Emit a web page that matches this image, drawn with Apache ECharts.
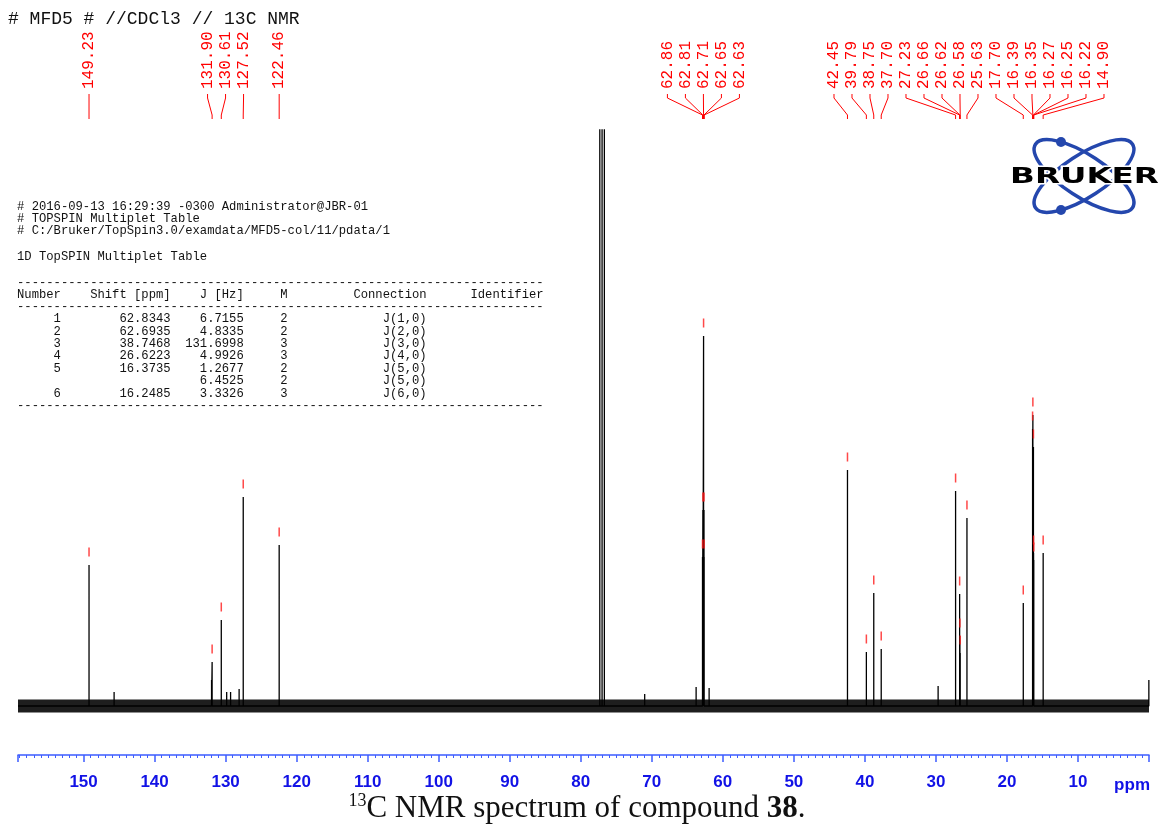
<!DOCTYPE html>
<html><head><meta charset="utf-8">
<script src="https://cdn.jsdelivr.net/npm/echarts@6/dist/echarts.min.js"></script>
<style>html,body{margin:0;padding:0;background:#fff}#c{width:1161px;height:825px}</style>
</head><body><div id="c"></div>
<script>
// ---- Data ----
// picked (labelled) peaks: chemical shift (ppm) and intensity (arbitrary units)
const peakPpm = [149.23, 131.90, 130.61, 127.52, 122.46,
  62.86, 62.81, 62.71, 62.65, 62.63,
  42.45, 39.79, 38.75, 37.70, 27.23, 26.66, 26.62, 26.58, 25.63,
  17.70, 16.39, 16.35, 16.27, 16.25, 16.22, 14.90];
const peakHeight = [141, 44, 86, 209, 161,
  149, 196, 370, 196, 149,
  236, 54, 113, 57, 215, 112, 70, 53, 188,
  103, 277, 291, 259, 153, 146, 153];
const peakLabel = peakPpm.map(p => p.toFixed(2));
// unlabelled signals: CDCl3 triplet (off scale) and small impurity lines
const otherPpm = [145.7, 131.98, 129.85, 129.3, 128.1, 77.32, 77.00, 76.68, 71.0, 63.76, 61.93, 29.69, 0.02];
const otherHeight = [14, 26, 14, 14, 17, 3000, 3000, 3000, 12, 19, 18, 20, 26];
const axisMin = 0, axisMax = 159.23, axisInterval = 10;

// acquisition / multiplet table text
const headerTitle = '# MFD5 # //CDCl3 // 13C NMR';
const infoLines = ['# 2016-09-13 16:29:39 -0300 Administrator@JBR-01',
  '# TOPSPIN Multiplet Table',
  '# C:/Bruker/TopSpin3.0/examdata/MFD5-col/11/pdata/1'];
const tableTitle = '1D TopSPIN Multiplet Table';
const tableNumber = ['1', '2', '3', '4', '5', '', '6'];
const tableShift = ['62.8343', '62.6935', '38.7468', '26.6223', '16.3735', '', '16.2485'];
const tableJ = ['6.7155', '4.8335', '131.6998', '4.9926', '1.2677', '6.4525', '3.3326'];
const tableM = ['2', '2', '3', '3', '2', '2', '3'];
const tableConn = ['J(1,0)', 'J(2,0)', 'J(3,0)', 'J(4,0)', 'J(5,0)', 'J(5,0)', 'J(6,0)'];

// ---- build spectrum trace ----
const allPeaks = peakPpm.map((p, i) => [p, peakHeight[i]])
  .concat(otherPpm.map((p, i) => [p, otherHeight[i]]))
  .sort((a, b) => b[0] - a[0]);
const spec = [[axisMax, 0]];
allPeaks.forEach(([p, h]) => { spec.push([p, 0], [p, h], [p, 0]); });
spec.push([axisMin, 0]);

function layoutLabels(xs, gap) {
  const idx = xs.map((x, i) => i).sort((a, b) => xs[a] - xs[b]);
  let groups = idx.map(i => ({ m: [i], s: xs[i] }));
  let merged = true;
  while (merged) {
    merged = false;
    for (let g = 0; g < groups.length - 1; g++) {
      const A = groups[g], B = groups[g + 1];
      const aEnd = A.s / A.m.length + (A.m.length - 1) / 2 * gap;
      const bStart = B.s / B.m.length - (B.m.length - 1) / 2 * gap;
      if (bStart - aEnd < gap) {
        groups.splice(g, 2, { m: A.m.concat(B.m), s: A.s + B.s });
        merged = true; break;
      }
    }
  }
  const out = [];
  groups.forEach(G => { const n = G.m.length, c = G.s / n; G.m.forEach((m, k) => { out[m] = c + (k - (n - 1) / 2) * gap; }); });
  return out;
}

function pad(s, n) { s = String(s); while (s.length < n) s = ' ' + s; return s; }
const dash = '-'.repeat(72);
const tableHead = 'Number    Shift [ppm]    J [Hz]     M         Connection      Identifier';
const tableRows = tableNumber.map((n, i) =>
  pad(n, 6) + pad(tableShift[i], 15) + pad(tableJ[i], 10) + pad(tableM[i], 6) + pad(tableConn[i], 19));

const mono = '"Liberation Mono", "DejaVu Sans Mono", monospace';
const tFont = '12.2px ' + mono;
const tableGraphics = [];
function tline(t, y) { tableGraphics.push({ type: 'text', x: 17, y: y, style: { text: t, font: tFont, fill: '#111', verticalAlign: 'middle' } }); }
infoLines.forEach((t, i) => tline(t, 207 + i * 12));
tline(tableTitle, 257);
tline(dash, 283);
tline(tableHead, 295);
tline(dash, 307);
tableRows.forEach((t, i) => tline(t, 319 + i * 12.4));
tline(dash, 406);

const chart = echarts.init(document.getElementById('c'));
const axisBlue = '#3d5cff';
chart.setOption({
  animation: false,
  backgroundColor: '#fff',
  grid: { left: 18, right: 12, top: 130, bottom: 70, containLabel: false },
  xAxis: {
    type: 'value', inverse: true, min: axisMin, max: axisMax, interval: axisInterval,
    axisLine: { onZero: false, lineStyle: { color: axisBlue, width: 1.5 } },
    axisTick: { length: 7, lineStyle: { color: axisBlue, width: 1.5 } },
    minorTick: { show: true, splitNumber: 10, length: 3, lineStyle: { color: axisBlue, width: 1 } },
    splitLine: { show: false }, minorSplitLine: { show: false },
    axisLabel: {
      margin: 19, color: '#1212e6', fontWeight: 'bold', fontSize: 17, fontFamily: '"Liberation Sans", Arial, sans-serif',
      formatter: v => (Math.abs(v % 10) < 1e-6 && v > 0 && v <= 150) ? String(Math.round(v)) : ''
    }
  },
  yAxis: { type: 'value', min: -49, max: 576, show: false },
  series: [
    { type: 'line', data: [[axisMax, 0], [axisMin, 0]], symbol: 'none', silent: true,
      lineStyle: { color: '#1e1e1e', width: 13 }, z: 1 },
    { type: 'line', data: spec, symbol: 'none', silent: true, clip: true,
      lineStyle: { color: '#000', width: 1.3 }, z: 2 },
    { type: 'scatter', data: peakPpm.map((p, i) => [p, peakHeight[i]]), symbol: 'rect',
      symbolSize: [1.5, 9], symbolOffset: [0, -13], itemStyle: { color: '#ff1a1a' }, silent: true, z: 3 },
    { type: 'custom', coordinateSystem: 'cartesian2d', clip: false, silent: true, z: 4,
      data: peakPpm.map((p, i) => [p, peakHeight[i]]),
      renderItem: (params, api) => {
        const i = params.dataIndex;
        const xs = layoutLabels(peakPpm.map(p => api.coord([p, 0])[0]), 18);
        const px = api.coord([peakPpm[i], 0])[0];
        const lx = xs[i];
        return { type: 'group', children: [
          { type: 'polyline', shape: { points: [[lx, 94], [lx, 98], [px, 115], [px, 119]] },
            style: { stroke: '#ff0000', lineWidth: 1, fill: null } },
          { type: 'text', x: lx, y: 89, rotation: Math.PI / 2,
            style: { text: peakLabel[i], font: '16px ' + mono, fill: '#ff0000', align: 'left', verticalAlign: 'middle' } }
        ] };
      } }
  ],
  graphic: [
    { type: 'text', x: 8, y: 19, style: { text: headerTitle, font: '18px ' + mono, fill: '#111', verticalAlign: 'middle' } },
    ...tableGraphics,
    { type: 'text', x: 1150, y: 785, style: { text: 'ppm', font: 'bold 17px "Liberation Sans", Arial, sans-serif', fill: '#1212e6', align: 'right', verticalAlign: 'middle' } },
    { type: 'text', x: 577, y: 808, style: {
      text: '{sup|13}{n|C NMR spectrum of compound }{b|38}{n|.}', align: 'center', verticalAlign: 'middle',
      rich: {
        n: { fontSize: 31, fontFamily: '"Liberation Serif", serif', fill: '#111', lineHeight: 32, verticalAlign: 'bottom' },
        b: { fontSize: 31, fontFamily: '"Liberation Serif", serif', fontWeight: 'bold', fill: '#111', lineHeight: 32, verticalAlign: 'bottom' },
        sup: { fontSize: 18, fontFamily: '"Liberation Serif", serif', fill: '#111', lineHeight: 32, verticalAlign: 'top' }
      } } },
    { type: 'group', children: [
      { type: 'ellipse', x: 1084, y: 176, rotation: -0.58, shape: { cx: 0, cy: 0, rx: 58, ry: 21 }, style: { stroke: '#2447ad', lineWidth: 3.5, fill: null } },
      { type: 'ellipse', x: 1084, y: 176, rotation: 0.58, shape: { cx: 0, cy: 0, rx: 58, ry: 21 }, style: { stroke: '#2447ad', lineWidth: 3.5, fill: null } },
      { type: 'circle', shape: { cx: 1061, cy: 142, r: 5 }, style: { fill: '#2447ad' } },
      { type: 'circle', shape: { cx: 1061, cy: 210, r: 5 }, style: { fill: '#2447ad' } },
      { type: 'text', x: 1084.5, y: 178, scaleX: 1.55, style: { text: 'BRUKER', font: 'bold 21px "DejaVu Sans", sans-serif', fill: '#000', align: 'center', verticalAlign: 'middle', stroke: '#fff', lineWidth: 3, strokeFirst: true } }
    ] }
  ]
});
</script></body></html>
